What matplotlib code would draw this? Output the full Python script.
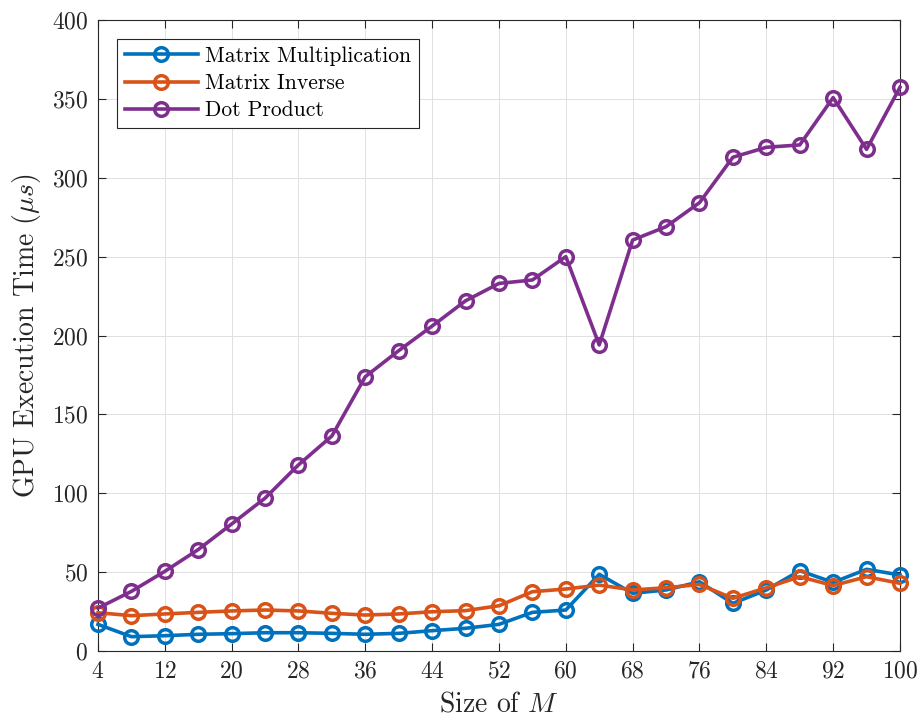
import matplotlib
matplotlib.use("Agg")
import matplotlib.pyplot as plt
import numpy as np

plt.rcParams['font.family'] = 'cmr10'
plt.rcParams['mathtext.fontset'] = 'cm'
plt.rcParams['axes.unicode_minus'] = False
plt.rcParams['axes.formatter.use_mathtext'] = True

sizes = list(range(4, 101, 4))

matrix_mult = [16.9, 9.1, 9.7, 10.6, 11.0, 11.6, 11.6, 11.2, 10.6, 11.2, 12.9, 14.4,
               16.9, 24.5, 26.0, 48.6, 36.6, 38.7, 43.9, 30.2, 38.7, 50.9, 43.5, 51.8, 48.2]
matrix_inv = [24.3, 22.4, 23.5, 24.5, 25.4, 26.0, 25.4, 23.9, 22.8, 23.5, 24.9, 25.6,
              28.7, 37.6, 39.3, 41.8, 38.7, 40.1, 42.2, 33.4, 40.1, 47.1, 41.5, 47.1, 42.9]
dot_product = [27.2, 37.8, 50.5, 64.3, 80.5, 96.9, 118.0, 136.3, 173.9, 190.4, 206.0, 222.0,
               233.0, 235.2, 250.0, 194.0, 260.5, 269.0, 284.2, 313.0, 319.3, 320.8, 350.8, 318.0, 357.3]

series = [
    ("Matrix Multiplication", matrix_mult, "#0072BD"),
    ("Matrix Inverse", matrix_inv, "#D95319"),
    ("Dot Product", dot_product, "#7E2F8E"),
]

fig = plt.figure(figsize=(9.19, 7.24), dpi=100)
ax = fig.add_axes([0.1066, 0.1008, 0.8727, 0.8716])

for label, vals, col in series:
    ax.plot(sizes, vals, '-', color=col, lw=2.6, marker='o', ms=9.8,
            mfc='none', mec=col, mew=2.5, label=label, clip_on=False, zorder=3)

ax.set_xlim(4, 100)
ax.set_ylim(0, 400)
ax.set_xticks(range(4, 101, 8))
ax.set_yticks(range(0, 401, 50))
ax.grid(True, color='#e0e0e0', lw=0.7)
ax.set_axisbelow(True)

for s in ax.spines.values():
    s.set_color('#262626')
    s.set_linewidth(0.8)
ax.tick_params(direction='in', length=6, width=0.8, colors='#262626',
               labelsize=17, top=True, right=True, pad=7)
for t in ax.get_xticklabels() + ax.get_yticklabels():
    t.set_color('#262626')

ax.set_xlabel('Size of $M$', fontsize=20, color='#262626', labelpad=6)
ax.set_ylabel(r'GPU Execution Time ($\mu s$)', fontsize=20, color='#262626', labelpad=6)

leg = ax.legend(loc='upper left', bbox_to_anchor=(0.0237, 0.970), fontsize=15.5,
                frameon=True, fancybox=False, framealpha=1, edgecolor='#262626',
                handlelength=3.4, borderpad=0.35, labelspacing=0.36, handletextpad=0.35,
                borderaxespad=0)
leg.get_frame().set_linewidth(0.8)

fig.savefig('out.png', dpi=100)
